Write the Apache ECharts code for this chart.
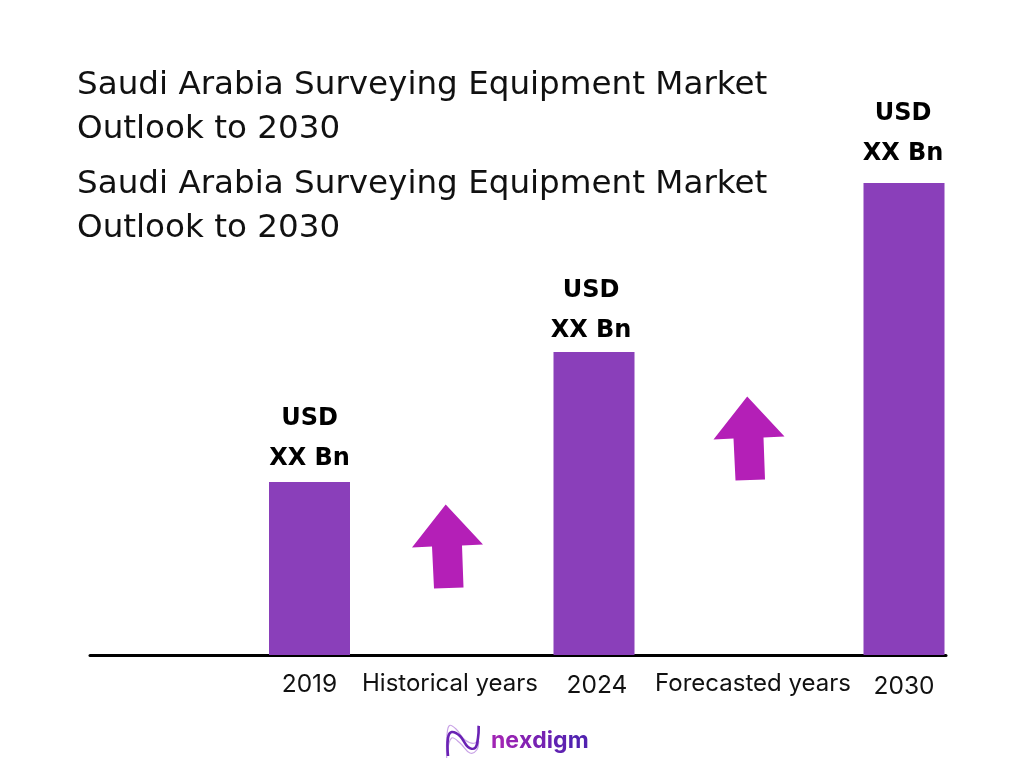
<!DOCTYPE html>
<html>
<head>
<meta charset="utf-8">
<style>html,body{margin:0;padding:0;background:#fff}#chart{width:1024px;height:768px}</style>
<script src="https://cdn.jsdelivr.net/npm/echarts@6/dist/echarts.min.js"></script>
</head>
<body>
<div id="chart"></div>
<script>
const titleText = 'Saudi Arabia Surveying Equipment Market\nOutlook to 2030';
const years = ['2019', '2024', '2030'];
const barValues = [173, 303, 472];
const barLabel = 'USD\nXX Bn';
const yearSlots = [309.5, 594, 904];
const tickSlots = [309.5, 450, 597, 753, 904];
const tickLabels = ['{y|2019}', '{a|Historical years}', '{b|2024}', '{a|Forecasted years}', '{c|2030}'];
const arrowPoints = [[447.5, 108.5], [749, 216.5]];
const logoLetters = ['n', 'e', 'x', 'd', 'i', 'g', 'm'];
const logoColors = ['#A024B4', '#9423B3', '#8522B3', '#7622B2', '#6B22B2', '#5F22B1', '#5222B0'];

// the value labels do not sit at one distance above the bars in the picture
const labelOffsets = { 2019: [0, 7], 2024: [-3, 9], 2030: [-1, 0.5] };

// slightly hand-tilted up arrow, same as in the picture
const arrowPath = 'path://M33.7 0L71 40L50 41L51.5 83L22 84L20 42L0 43Z';

const chart = echarts.init(document.getElementById('chart'), null, { renderer: 'canvas' });

const titleStyle = { fontFamily: 'DejaVu Sans', fontSize: 32.6, fontWeight: 400, color: '#111', lineHeight: 43.5 };

// one rich style per letter, canvas text takes no gradient fill
const logoRich = {};
logoLetters.forEach((c, i) => {
  logoRich['l' + i] = { fontFamily: 'Inter', fontWeight: 'bold', fontSize: 23, fill: logoColors[i] };
});

chart.setOption({
  animation: false,
  backgroundColor: '#fff',
  title: [
    { text: titleText, left: 72, top: 59, textStyle: titleStyle },
    { text: titleText, left: 72, top: 158, textStyle: titleStyle }
  ],
  grid: { left: 90, right: 78, top: 0, height: 655 },
  xAxis: {
    type: 'value',
    min: 90,
    max: 946,
    splitLine: { show: false },
    axisLine: { show: true, onZero: false, lineStyle: { color: '#000', width: 3 } },
    axisTick: { show: false },
    axisLabel: {
      customValues: tickSlots,
      margin: 17,
      formatter: function (v) { return tickLabels[tickSlots.indexOf(v)]; },
      rich: {
        a: { fontFamily: 'Inter', fontSize: 24, color: '#111' },
        y: { fontFamily: 'Inter', fontSize: 24.5, color: '#111' },
        b: { fontFamily: 'Inter', fontSize: 24.5, color: '#111', padding: [1, 0, 0, 0] },
        c: { fontFamily: 'Inter', fontSize: 24.5, color: '#111', padding: [2, 0, 0, 0] }
      }
    }
  },
  yAxis: { type: 'value', min: 0, max: 655, show: false },
  series: [
    {
      type: 'bar',
      barWidth: 81,
      itemStyle: { color: '#8A3FBA' },
      label: {
        show: true,
        position: 'top',
        distance: 10,
        formatter: barLabel,
        fontFamily: 'DejaVu Sans',
        fontWeight: 'bold',
        fontSize: 24,
        lineHeight: 40,
        color: '#000'
      },
      data: years.map((y, i) => ({
        value: [yearSlots[i], barValues[i]],
        label: { offset: labelOffsets[y] }
      }))
    },
    {
      type: 'scatter',
      symbol: arrowPath,
      symbolSize: [71, 84],
      itemStyle: { color: '#B41FB7', opacity: 1 },
      data: arrowPoints
    }
  ],
  graphic: [
    {
      type: 'polyline',
      shape: { points: [[446.7, 758], [447, 735], [449.5, 725.5], [456, 729], [465, 740], [475, 743], [478.3, 736], [478, 725]], smooth: 0.4 },
      style: { fill: null, stroke: '#C9A3E6', lineWidth: 1.2 }
    },
    {
      type: 'polyline',
      shape: { points: [[447.5, 752], [451.7, 738], [460, 743], [470, 753], [476.7, 750], [478.7, 741]], smooth: 0.4 },
      style: { fill: null, stroke: '#C9A3E6', lineWidth: 1.2 }
    },
    {
      type: 'polyline',
      shape: { points: [[448, 756], [448, 738], [451.7, 732], [460, 736], [468, 747], [475, 748], [478, 738], [478.7, 726]], smooth: 0.4 },
      style: { fill: null, stroke: '#6A22B4', lineWidth: 2.6 }
    },
    {
      type: 'text',
      left: 491,
      top: 730,
      style: {
        text: logoLetters.map((c, i) => '{l' + i + '|' + c + '}').join(''),
        rich: logoRich
      }
    }
  ]
});
</script>
</body>
</html>
